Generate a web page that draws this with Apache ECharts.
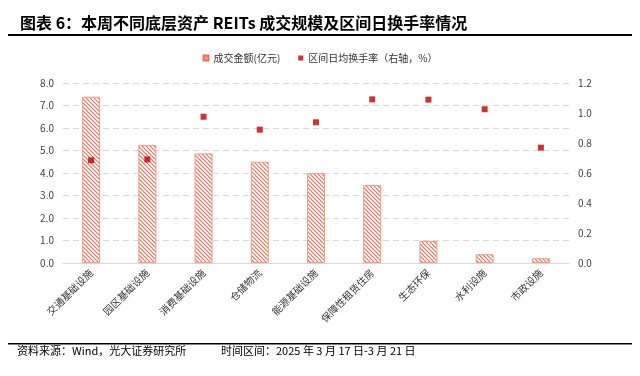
<!DOCTYPE html>
<html>
<head>
<meta charset="utf-8">
<script src="https://cdn.jsdelivr.net/npm/echarts@6/dist/echarts.min.js"></script>
<style>
  html, body { margin: 0; padding: 0; background: #fff; }
  #chart { width: 640px; height: 376px; }
</style>
</head>
<body>
<div id="chart"></div>
<script>
const categories = ['交通基础设施', '园区基础设施', '消费基础设施', '仓储物流', '能源基础设施', '保障性租赁住房', '生态环保', '水利设施', '市政设施'];
const turnoverAmount = [7.39, 5.24, 4.87, 4.50, 3.99, 3.47, 0.98, 0.39, 0.21];
const turnoverRate = [0.685, 0.691, 0.975, 0.889, 0.938, 1.091, 1.089, 1.025, 0.769];
const leftTicks = [0, 8, 1];
const rightTicks = [0, 1.2, 0.2];

const font = 'Noto Sans CJK SC';

// diagonal hatch for the bars
const hatch = document.createElement('canvas');
hatch.width = 4;
hatch.height = 4;
const hc = hatch.getContext('2d');
hc.fillStyle = '#fff';
hc.fillRect(0, 0, 4, 4);
hc.strokeStyle = '#E8735C';
hc.lineWidth = 1.2;
hc.beginPath();
hc.moveTo(-1, -1); hc.lineTo(5, 5);
hc.moveTo(-1, 3); hc.lineTo(1, 5);
hc.moveTo(3, -1); hc.lineTo(5, 1);
hc.stroke();

const chart = echarts.init(document.getElementById('chart'), null, { renderer: 'canvas' });

chart.setOption({
  backgroundColor: '#fff',
  animation: false,
  textStyle: { fontFamily: font },
  title: {
    text: '图表 6：本周不同底层资产 REITs 成交规模及区间日换手率情况',
    left: 15,
    top: 10,
    textStyle: { fontFamily: font, fontSize: 16, fontWeight: 'bold', color: '#000' },
  },
  graphic: [
    { type: 'rect', shape: { x: 8, y: 34, width: 624, height: 2 }, style: { fill: '#000' } },
    { type: 'rect', shape: { x: 8, y: 343, width: 624, height: 1.5 }, style: { fill: '#000' } },
    {
      type: 'text', left: 17, top: 345,
      style: { text: '资料来源：Wind，光大证券研究所', font: '11px "Noto Sans CJK SC"', fill: '#000' },
    },
    {
      type: 'text', left: 221, top: 345,
      style: { text: '时间区间：2025 年 3 月 17 日-3 月 21 日', font: '11px "Noto Sans CJK SC"', fill: '#000' },
    },
  ],
  legend: {
    top: 48,
    left: 'center',
    itemWidth: 5,
    itemHeight: 5,
    itemGap: 18,
    textStyle: { fontSize: 10, color: '#333', fontFamily: font },
    data: [
      { name: '成交金额(亿元)', icon: 'rect', itemStyle: { color: '#EE9A86', borderColor: '#E8735C' } },
      { name: '区间日均换手率（右轴，%）', icon: 'rect' },
    ],
  },
  grid: { left: 63, right: 71, top: 83, bottom: 113 },
  xAxis: {
    type: 'category',
    data: categories,
    axisLine: { lineStyle: { color: '#D9D9D9' } },
    axisTick: { show: false },
    axisLabel: { rotate: 45, fontSize: 10, color: '#333', margin: 8, interval: 0 },
  },
  yAxis: [
    {
      type: 'value',
      min: leftTicks[0], max: leftTicks[1], interval: leftTicks[2],
      axisLine: { show: false },
      axisTick: { show: false },
      axisLabel: { fontSize: 10, color: '#404040', margin: 9, formatter: v => v.toFixed(1) },
      splitLine: { lineStyle: { color: '#D9D9D9', type: [6, 4] } },
    },
    {
      type: 'value',
      min: rightTicks[0], max: rightTicks[1], interval: rightTicks[2],
      axisLine: { show: false },
      axisTick: { show: false },
      axisLabel: { fontSize: 10, color: '#404040', margin: 9, formatter: v => v.toFixed(1) },
      splitLine: { show: false },
    },
  ],
  series: [
    {
      name: '成交金额(亿元)',
      type: 'bar',
      data: turnoverAmount,
      barWidth: 18,
      itemStyle: {
        color: { image: hatch, repeat: 'repeat' },
        borderColor: '#EE9A86',
        borderWidth: 1,
      },
    },
    {
      name: '区间日均换手率（右轴，%）',
      type: 'scatter',
      yAxisIndex: 1,
      data: turnoverRate,
      symbol: 'rect',
      symbolSize: 6,
      itemStyle: { color: '#C00000' },
    },
  ],
});
</script>
</body>
</html>
